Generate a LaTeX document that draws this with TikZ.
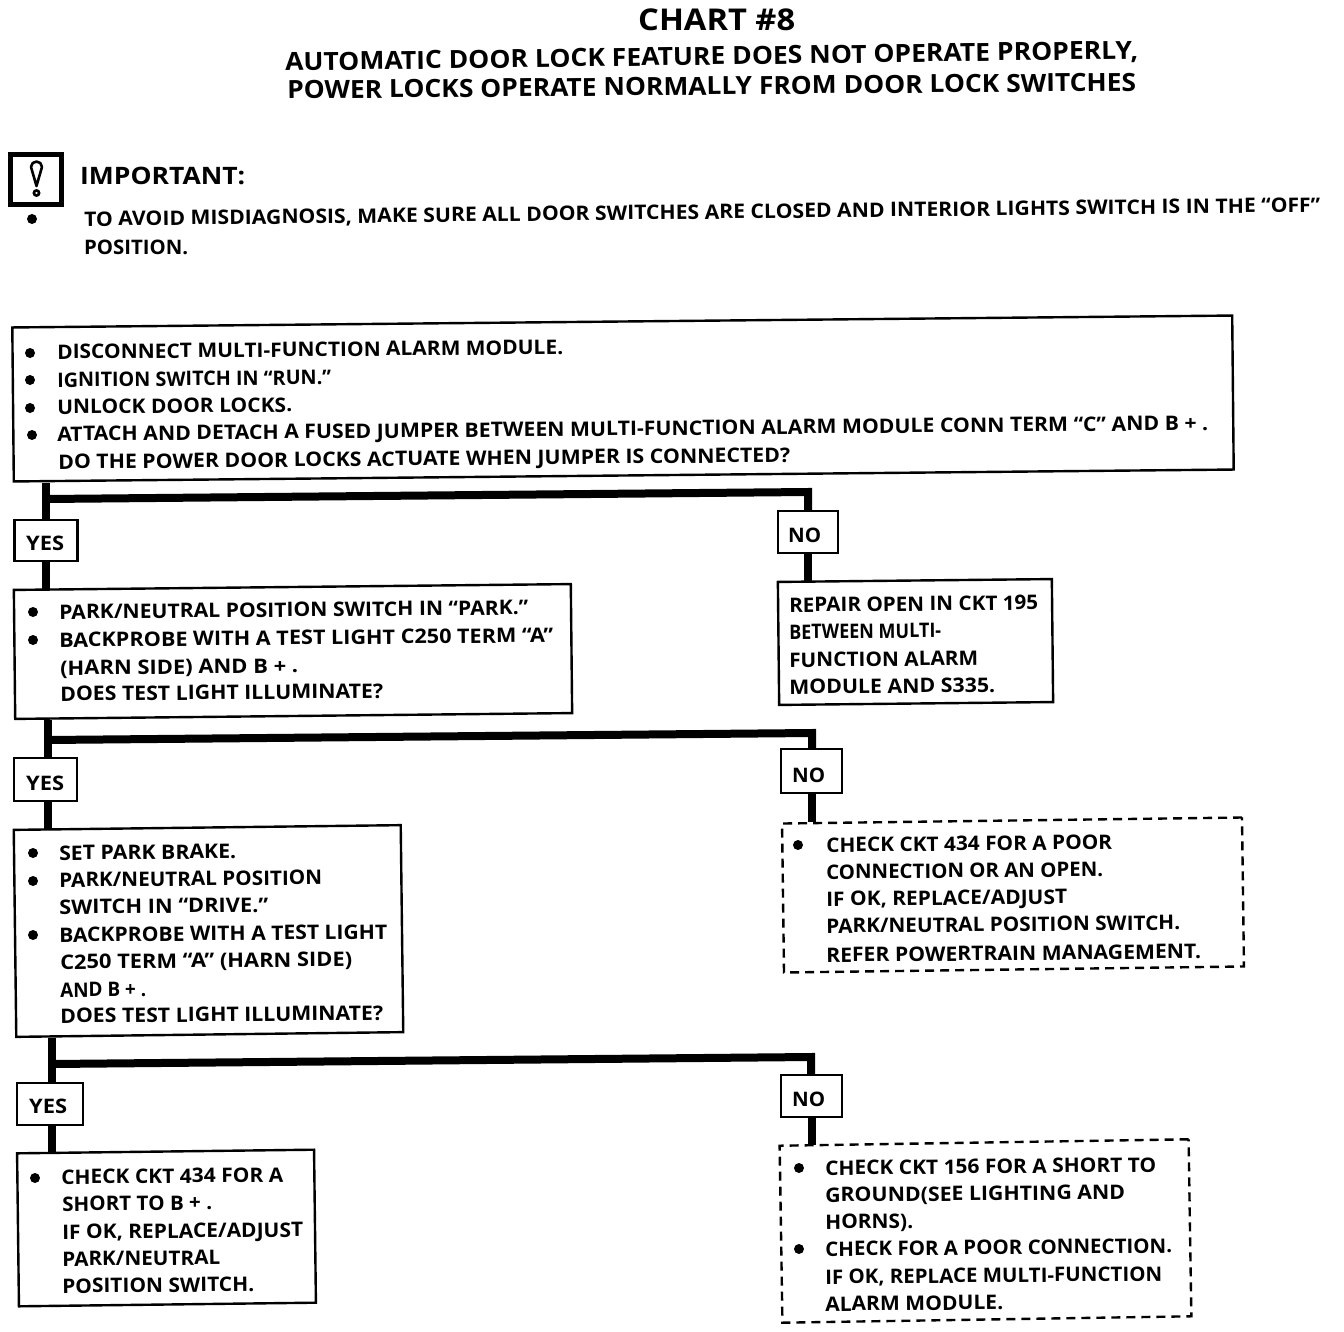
\documentclass[tikz,border=0pt]{standalone}
\usepackage{graphicx}
\usepackage{fontspec}
\setmainfont{Open Sans}[BoldFont={Open Sans Bold}]
\newcounter{tln}
\def\tlsize{20}
\tikzset{
  box/.style={draw=black,line width=2.4pt,fill=none,inner sep=0pt,rectangle},
  dashbox/.style={box,dash pattern=on 9pt off 6pt},
  txt/.style={anchor=west,inner sep=0pt,text depth=0pt,text height=\tlsize*0.714pt,font=\bfseries\fontsize{\tlsize}{\tlsize}\selectfont},
  flow/.style={line width=8pt,draw=black},
  bulletdot/.style={fill=black,draw=none}
}
% left x, centre y of the capitals at the left end, right x, text
\newcommand{\tl}[5][0.55]{\stepcounter{tln}%
  \pgfmathsetmacro{\tlwidth}{#4-#2}%
  \node[txt,rotate=#1] (line\thetln) at (#2,#3) {\resizebox{\tlwidth pt}{\height}{#5}};}
\newcommand{\bul}[2]{\fill[bulletdot] (#1,#2) circle (5pt);}
\begin{document}
\begin{tikzpicture}[x=1pt,y=-1pt]
\useasboundingbox (0,0) rectangle (1344,1332);
% title
\def\tlsize{30}
\tl[0]{638}{20}{795}{CHART \#8}
\def\tlsize{25}
\tl[0.8]{285}{62}{1138}{AUTOMATIC DOOR LOCK FEATURE DOES NOT OPERATE PROPERLY,}
\tl[0.54]{287}{90}{1136}{POWER LOCKS OPERATE NORMALLY FROM DOOR LOCK SWITCHES}
% important
\node[draw=black,line width=4.5pt,minimum width=51pt,minimum height=50pt,inner sep=0pt] (icon) at (36,179.5) {};
\draw[line width=2.6pt,line join=round] (31,167) arc[start angle=180,end angle=360,radius=5.5] -- (36.5,186) -- cycle;
\draw[line width=2.6pt] (36.5,193) circle (2.6pt);
\def\tlsize{24}
\tl[0]{80}{176}{245}{IMPORTANT:}
\def\tlsize{20}
\bul{32}{219}
\tl[0.65]{84}{219}{1320}{TO AVOID MISDIAGNOSIS, MAKE SURE ALL DOOR SWITCHES ARE CLOSED AND INTERIOR LIGHTS SWITCH IS IN THE “OFF”}
\tl[0]{84}{247}{188}{POSITION.}
% boxes
\node[box,rotate=0.56,minimum width=1220pt,minimum height=154pt] (b1) at (623,398.5) {};
\node[box,rotate=0.6,minimum width=557pt,minimum height=129pt] (b2) at (293,651.5) {};
\node[box,rotate=0.6,minimum width=274pt,minimum height=123pt] (r1) at (915.5,642) {};
\node[dashbox,rotate=0.75,minimum width=460pt,minimum height=149pt] (d1) at (1013,895) {};
\node[box,rotate=0.7,minimum width=387pt,minimum height=207pt] (b3) at (208.5,931) {};
\node[box,rotate=0.7,minimum width=297pt,minimum height=153pt] (b4) at (166.5,1228) {};
\node[dashbox,rotate=0.9,minimum width=409pt,minimum height=177pt] (d2) at (985.5,1231) {};
% tags
\node[box,minimum width=63pt,minimum height=41pt] (yes1) at (46,540.5) {};
\node[box,minimum width=60pt,minimum height=42pt] (no1) at (808,532) {};
\node[box,minimum width=63pt,minimum height=43pt] (yes2) at (45.5,779.5) {};
\node[box,minimum width=61pt,minimum height=44pt] (no2) at (811.5,771) {};
\node[box,minimum width=66pt,minimum height=42pt] (yes3) at (50,1104) {};
\node[box,minimum width=61pt,minimum height=42pt] (no3) at (811.5,1096) {};
% junctions
\coordinate (j1) at (47,499); \coordinate (c1) at (808,492);
\coordinate (j2) at (48,740); \coordinate (c2) at (812,733);
\coordinate (j3) at (52,1064); \coordinate (c3) at (811,1057);
% connectors
\draw[flow] (yes1.north) -- (yes1.north |- b1.south west);
\draw[flow] (j1) -- (c1) -- (c1 |- no1.north);
\draw[flow] (yes1.south) -- (yes1.south |- b2.north west);
\draw[flow] (no1.south) -- (no1.south |- r1.north west);
\draw[flow] (j2 |- yes2.north) -- (j2 |- b2.south west);
\draw[flow] (j2) -- (c2) -- (c2 |- no2.north);
\draw[flow] (j2 |- yes2.south) -- (j2 |- b3.north west);
\draw[flow] (no2.south) -- (no2.south |- d1.north west);
\draw[flow] (j3 |- yes3.north) -- (j3 |- b3.south west);
\draw[flow] (j3) -- (c3) -- (c3 |- no3.north);
\draw[flow] (j3 |- yes3.south) -- (j3 |- b4.north west);
\draw[flow] (no3.south) -- (no3.south |- d2.north west);
% tag texts
\tl[0]{26}{543}{64}{YES}
\tl[0]{788}{535}{821}{NO}
\tl[0]{26}{783}{64}{YES}
\tl[0]{792}{775}{825}{NO}
\tl[0]{29}{1106}{67}{YES}
\tl[0]{792}{1099}{825}{NO}
% box 1
\bul{30}{353}\bul{30}{380}\bul{30}{408}\bul{32}{435}
\tl{57}{352}{563}{DISCONNECT MULTI-FUNCTION ALARM MODULE.}
\tl{57}{380}{331}{IGNITION SWITCH IN “RUN.”}
\tl{57}{407}{292}{UNLOCK DOOR LOCKS.}
\tl{57}{434}{1208}{ATTACH AND DETACH A FUSED JUMPER BETWEEN MULTI-FUNCTION ALARM MODULE CONN TERM “C” AND B + .}
\tl{58}{462}{790}{DO THE POWER DOOR LOCKS ACTUATE WHEN JUMPER IS CONNECTED?}
% box 2
\bul{33}{612}\bul{33}{640}
\tl{59}{612}{528}{PARK/NEUTRAL POSITION SWITCH IN “PARK.”}
\tl{59}{640}{553}{BACKPROBE WITH A TEST LIGHT C250 TERM “A”}
\tl{60}{668}{298}{(HARN SIDE) AND B + .}
\tl{60}{694}{383}{DOES TEST LIGHT ILLUMINATE?}
% repair
\tl{789}{605}{1038}{REPAIR OPEN IN CKT 195}
\tl{789}{632}{941}{BETWEEN MULTI-}
\tl{789}{660}{978}{FUNCTION ALARM}
\tl{789}{687}{995}{MODULE AND S335.}
% dashed 1
\bul{798}{845}
\tl{826}{845}{1112}{CHECK CKT 434 FOR A POOR}
\tl{826}{872}{1103}{CONNECTION OR AN OPEN.}
\tl{826}{899}{1067}{IF OK, REPLACE/ADJUST}
\tl{826}{926}{1180}{PARK/NEUTRAL POSITION SWITCH.}
\tl{826}{955}{1201}{REFER POWERTRAIN MANAGEMENT.}
% box 3
\bul{33}{853}\bul{33}{881}\bul{33}{935}
\tl{59}{853}{236}{SET PARK BRAKE.}
\tl{59}{880}{322}{PARK/NEUTRAL POSITION}
\tl{59}{907}{268}{SWITCH IN “DRIVE.”}
\tl{59}{935}{387}{BACKPROBE WITH A TEST LIGHT}
\tl{60}{962}{352}{C250 TERM “A” (HARN SIDE)}
\tl{60}{990}{146}{AND B + .}
\tl{60}{1016}{383}{DOES TEST LIGHT ILLUMINATE?}
% box 4
\bul{35}{1178}
\tl{61}{1177}{283}{CHECK CKT 434 FOR A}
\tl{62}{1204}{212}{SHORT TO B + .}
\tl{62}{1232}{303}{IF OK, REPLACE/ADJUST}
\tl{62}{1259}{220}{PARK/NEUTRAL}
\tl{62}{1286}{254}{POSITION SWITCH.}
% dashed 2
\bul{799}{1168}\bul{799}{1249}
\tl{825}{1168}{1156}{CHECK CKT 156 FOR A SHORT TO}
\tl{825}{1195}{1125}{GROUND(SEE LIGHTING AND}
\tl{825}{1222}{913}{HORNS).}
\tl{825}{1249}{1172}{CHECK FOR A POOR CONNECTION.}
\tl{825}{1277}{1162}{IF OK, REPLACE MULTI-FUNCTION}
\tl{825}{1304}{1003}{ALARM MODULE.}
\end{tikzpicture}
\end{document}
